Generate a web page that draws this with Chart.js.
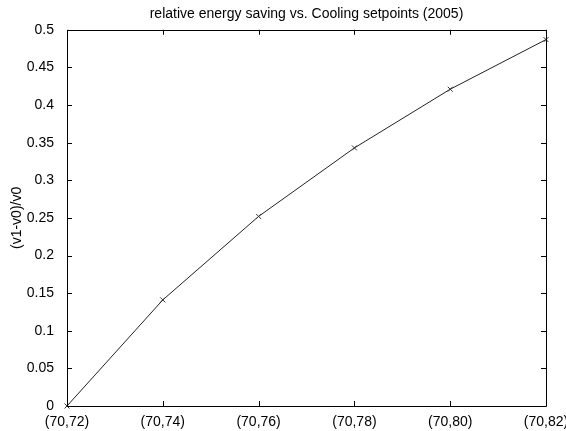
<!DOCTYPE html>
<html>
<head>
<meta charset="utf-8">
<script src="https://cdn.jsdelivr.net/npm/chart.js@4/dist/chart.umd.min.js"></script>
<style>
html,body{margin:0;padding:0;background:#fff;}
#wrap{width:566px;height:431px;position:relative;}
</style>
</head>
<body>
<div id="wrap"><canvas id="c"></canvas></div>
<script>
const categories = ['(70,72)', '(70,74)', '(70,76)', '(70,78)', '(70,80)', '(70,82)'];
const savingValues = [0, 0.141, 0.252, 0.343, 0.421, 0.487];
const yTicks = [0, 0.05, 0.1, 0.15, 0.2, 0.25, 0.3, 0.35, 0.4, 0.45, 0.5];

const FONT = 'Liberation Sans, Arial, sans-serif';

const frameTicks = {
  id: 'frameTicks',
  afterDraw(chart) {
    const ctx = chart.ctx, a = chart.chartArea;
    const xs = chart.scales.x, ys = chart.scales.y;
    const L = 5;
    ctx.save();
    ctx.strokeStyle = '#000';
    ctx.lineWidth = 1;
    ctx.beginPath();
    ctx.rect(Math.round(a.left) + 0.5, Math.round(a.top) + 0.5, Math.round(a.right - a.left), Math.round(a.bottom - a.top));
    xs.ticks.forEach((t, i) => {
      const px = Math.round(xs.getPixelForTick(i)) + 0.5;
      ctx.moveTo(px, a.bottom); ctx.lineTo(px, a.bottom - L);
      ctx.moveTo(px, a.top); ctx.lineTo(px, a.top + L);
    });
    ys.ticks.forEach((t, i) => {
      const py = Math.round(ys.getPixelForTick(i)) + 0.5;
      ctx.moveTo(a.left, py); ctx.lineTo(a.left + L, py);
      ctx.moveTo(a.right, py); ctx.lineTo(a.right - L, py);
    });
    ctx.stroke();
    ctx.restore();
  }
};

new Chart(document.getElementById('c'), {
  type: 'line',
  data: {
    labels: categories,
    datasets: [{
      data: savingValues,
      borderColor: '#222',
      borderWidth: 1,
      pointStyle: 'crossRot',
      pointRadius: 3.5,
      pointBorderColor: '#333',
      pointBorderWidth: 1,
      pointBackgroundColor: 'transparent',
      tension: 0,
      fill: false,
      clip: false
    }]
  },
  options: {
    responsive: true,
    maintainAspectRatio: false,
    animation: false,
    devicePixelRatio: 1,
    layout: { padding: { left: 0, right: 20, top: 0, bottom: 0 } },
    plugins: {
      legend: { display: false },
      tooltip: { enabled: false },
      title: {
        display: true,
        fullSize: false,
        text: 'relative energy saving vs. Cooling setpoints (2005)',
        color: '#000',
        font: { family: FONT, size: 14, weight: 'normal' },
        padding: { top: 6, bottom: 7 }
      }
    },
    scales: {
      x: {
        type: 'category',
        offset: false,
        grid: { display: false },
        border: { display: false },
        ticks: {
          color: '#000',
          font: { family: FONT, size: 14 },
          padding: 0,
          maxRotation: 0,
          autoSkip: false
        },
        afterFit(s) { s.height = 25; s.paddingLeft = 0; s.paddingRight = 0; }
      },
      y: {
        type: 'linear',
        min: 0,
        max: 0.5,
        afterBuildTicks(s) { s.ticks = yTicks.map(v => ({ value: v })); },
        grid: { display: false },
        border: { display: false },
        ticks: {
          color: '#000',
          font: { family: FONT, size: 14 },
          padding: 5,
          callback: v => String(Number(v.toFixed(2)))
        },
        title: {
          display: true,
          text: '(v1-v0)/v0',
          color: '#000',
          font: { family: FONT, size: 14 },
          padding: { top: 9, bottom: 0 }
        },
        afterFit(s) { s.width = 67; s.paddingTop = 0; s.paddingBottom = 0; }
      }
    }
  },
  plugins: [frameTicks]
});
</script>
</body>
</html>
